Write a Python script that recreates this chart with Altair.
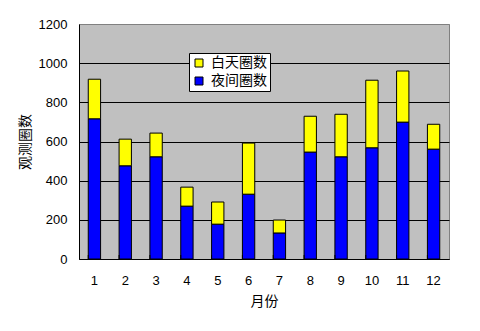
import altair as alt
import pandas as pd

months = [1, 2, 3, 4, 5, 6, 7, 8, 9, 10, 11, 12]
night = [716, 476, 522, 270, 178, 331, 133, 546, 522, 568, 699, 561]
day = [202, 136, 121, 97, 113, 261, 66, 183, 217, 345, 261, 127]
series = ["白天圈数", "夜间圈数"]
colors = ["#FFFF00", "#0000FF"]
y_ticks = [0, 200, 400, 600, 800, 1000, 1200]

rows = []
for m, n, d in zip(months, night, day):
    rows.append({"月份": m, "系列": "夜间圈数", "值": n, "ord": 0})
    rows.append({"月份": m, "系列": "白天圈数", "值": d, "ord": 1})
df = pd.DataFrame(rows)
mdf = pd.DataFrame({"月份": months})

CJK = "Noto Sans CJK SC"
NUM = "Liberation Sans"
W, H = 370, 235

xscale = alt.Scale(paddingInner=0.6, paddingOuter=0.3)
yscale = alt.Scale(domain=[0, 1200], nice=False)

bars = alt.Chart(df).mark_bar(stroke="black", strokeWidth=1).encode(
    x=alt.X(
        "月份:O",
        scale=xscale,
        axis=alt.Axis(
            title="月份",
            labelAngle=0,
            labelFont=NUM,
            labelFontSize=13,
            labelColor="black",
            labelPadding=15,
            tickSize=0,
            grid=False,
            domainColor="black",
            titleFont=CJK,
            titleFontSize=14,
            titleFontWeight="normal",
            titleColor="black",
            titlePadding=7,
        ),
    ),
    y=alt.Y(
        "值:Q",
        stack="zero",
        scale=yscale,
        axis=alt.Axis(
            title="观测圈数",
            values=y_ticks,
            format="d",
            labelOverlap=False,
            grid=True,
            gridColor={
                "condition": {"test": "datum.value >= 1200", "value": "#808080"},
                "value": "black",
            },
            gridOpacity=1,
            gridWidth=1,
            tickSize=0,
            labelFont=NUM,
            labelFontSize=13,
            labelColor="black",
            labelPadding=12,
            domainColor="black",
            titleFont=CJK,
            titleFontSize=14,
            titleFontWeight="normal",
            titleColor="black",
            titlePadding=6,
        ),
    ),
    color=alt.Color(
        "系列:N",
        scale=alt.Scale(domain=series, range=colors),
        legend=alt.Legend(
            title=None,
            orient="none",
            legendX=110,
            legendY=29,
            fillColor="white",
            strokeColor="black",
            padding=3,
            labelFont=CJK,
            labelFontSize=14,
            labelColor="black",
            labelOffset=5,
            symbolType="square",
            symbolSize=64,
            symbolStrokeColor="black",
            symbolStrokeWidth=1,
            rowPadding=4,
        ),
    ),
    order=alt.Order("ord:Q"),
)

ticks = alt.Chart(mdf).mark_rule(color="black", strokeWidth=1).encode(
    x=alt.X("月份:O", bandPosition=0, scale=xscale),
    y=alt.value(H - 4),
    y2=alt.value(H),
)

chart = alt.layer(bars, ticks).properties(
    width=W,
    height=H,
    autosize=alt.AutoSizeParams(type="none"),
    padding={"left": 79, "top": 24, "right": 31, "bottom": 72},
    background="white",
).configure_view(
    fill="#C0C0C0",
    stroke="#808080",
    strokeWidth=1,
)

chart.save("out.html", embed_options={"renderer": "svg", "actions": False})
